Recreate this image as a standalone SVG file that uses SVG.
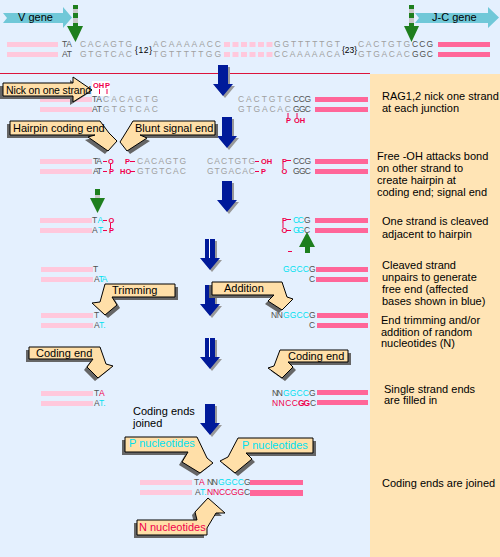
<svg xmlns="http://www.w3.org/2000/svg" xmlns:xlink="http://www.w3.org/1999/xlink" width="500" height="557" viewBox="0 0 500 557">
<style>
.s{font-family:"Liberation Sans",Arial,sans-serif;font-size:8.5px}
.g{fill:#a0a0a0}.d{fill:#505050}.r{fill:#f0004c}.c{fill:#00e0f0}.k{fill:#000}
.rs{font-family:"Liberation Sans",Arial,sans-serif;font-size:7.5px;font-weight:bold;fill:#f0004c}
.lp{fill:#ffc8dc}.hp{fill:#ff6699}
.lab{font-family:"Liberation Sans",Arial,sans-serif;font-size:11px;fill:#000}
.co{fill:#ffdfa8;stroke:#000;stroke-width:1}.sh{fill:#666}
.ba{fill:#001a9a}.bs{fill:#999}
.rl{stroke:#f0004c;stroke-width:1;fill:none}
.ge{fill:#70c8d8}
.gr{fill:#1e7f1e}.gy{fill:#c8c8c8}
</style>
<defs>
<path id="ba" d="M-5,0 h10 v19 h5 l-10,12 l-10,-12 h5 z"/>
</defs>
<rect width="500" height="557" fill="#e4f0fe"/>
<rect x="370" y="74" width="130" height="483" fill="#ffe4b5"/>
<line x1="0" y1="73.5" x2="370" y2="73.5" stroke="#dc143c" stroke-width="1"/>

<g id="v-gene">
<polygon class="ge" points="3,13 63,13 63,7 72,17.5 63,28 63,23 3,23 7,18"/>
<text class="lab" x="18" y="21">V gene</text>
</g>
<g id="jc-gene">
<polygon class="ge" points="415,13 488,13 488,7 499,17.5 488,28 488,23 415,23 419,18"/>
<text class="lab" x="432" y="21">J-C gene</text>
</g>

<g id="connectors">
<g id="green-arrows">
<rect class="gr" x="73" y="5" width="5" height="4"/><rect class="gy" x="73" y="9" width="5" height="4"/><rect class="gr" x="73" y="13" width="5" height="5"/><rect class="gy" x="73" y="18" width="5" height="5"/><rect class="gr" x="73" y="23" width="5" height="4"/>
<polygon class="gr" points="67,26 83,26 75.5,42"/>
<rect class="gr" x="409" y="5" width="5" height="4"/><rect class="gy" x="409" y="9" width="5" height="4"/><rect class="gr" x="409" y="13" width="5" height="5"/><rect class="gy" x="409" y="18" width="5" height="5"/><rect class="gr" x="409" y="23" width="5" height="4"/>
<polygon class="gr" points="404,26 419,26 411.5,42"/>
<rect class="gr" x="95" y="189" width="5" height="6"/><rect class="gy" x="95" y="195" width="5" height="4"/>
<polygon class="gr" points="90,198 105,198 97.5,213"/>
<polygon class="gr" points="299,247 315,247 307,232"/><rect class="gr" x="305" y="247" width="5" height="6"/>
<line class="rl" x1="288" y1="251.5" x2="292" y2="251.5"/>
</g>
<g id="blue-arrows">
<use xlink:href="#ba" class="bs" x="225" y="67"/><use xlink:href="#ba" class="ba" x="223" y="65"/>
<use xlink:href="#ba" class="bs" x="229" y="119"/><use xlink:href="#ba" class="ba" x="227" y="117"/>
<use xlink:href="#ba" class="bs" x="229" y="183"/><use xlink:href="#ba" class="ba" x="227" y="181"/>
<use xlink:href="#ba" class="bs" x="212" y="241"/><use xlink:href="#ba" class="ba" x="210" y="239"/>
<line x1="209.5" y1="239" x2="209.5" y2="258" stroke="#fff" stroke-width="1"/>
<use xlink:href="#ba" class="bs" x="212" y="287"/><use xlink:href="#ba" class="ba" x="210" y="285"/>
<use xlink:href="#ba" class="bs" x="212" y="340"/><use xlink:href="#ba" class="ba" x="210" y="338"/>
<line x1="209.5" y1="338" x2="209.5" y2="357" stroke="#fff" stroke-width="1"/>
<use xlink:href="#ba" class="bs" x="212" y="406"/><use xlink:href="#ba" class="ba" x="210" y="404"/>
</g>
</g>

<g id="step1">
<rect class="lp" x="7" y="42" width="51" height="5"/><rect class="lp" x="7" y="52" width="51" height="5"/>
<g class="lp"><rect x="224" y="42" width="6" height="5"/><rect x="232.5" y="42" width="6" height="5"/><rect x="241" y="42" width="6" height="5"/><rect x="249.5" y="42" width="6" height="5"/><rect x="258" y="42" width="6" height="5"/><rect x="266.5" y="42" width="6" height="5"/>
<rect x="224" y="52" width="6" height="5"/><rect x="232.5" y="52" width="6" height="5"/><rect x="241" y="52" width="6" height="5"/><rect x="249.5" y="52" width="6" height="5"/><rect x="258" y="52" width="6" height="5"/><rect x="266.5" y="52" width="6" height="5"/></g>
<rect class="hp" x="438" y="42" width="52" height="5"/><rect class="hp" x="438" y="52" width="52" height="5"/>
<text class="s d" x="62" y="47" textLength="10">TA</text>
<text class="s g" x="80" y="47" textLength="52">CACAGTG</text>
<text class="s g" x="153" y="47" textLength="68">ACAAAAACC</text>
<text class="s g" x="274" y="47" textLength="66">GGTTTTTGT</text>
<text class="s g" x="358" y="47" textLength="52">CACTGTG</text>
<text class="s d" x="412" y="47" textLength="21">CCG</text>
<text class="s d" x="62" y="57" textLength="10">AT</text>
<text class="s g" x="80" y="57" textLength="52">GTGTCAC</text>
<text class="s g" x="153" y="57" textLength="68">TGTTTTTGG</text>
<text class="s g" x="274" y="57" textLength="66">CCAAAAACA</text>
<text class="s g" x="358" y="57" textLength="52">GTGACAC</text>
<text class="s d" x="412" y="57" textLength="21">GGC</text>
<text class="s k" x="135" y="53" font-size="9" textLength="17">{12}</text>
<text class="s k" x="342" y="53" font-size="9" textLength="15">{23}</text>
</g>

<g id="step2">
<rect x="92" y="81" width="18" height="15" fill="#fff"/>
<text class="rs" x="93" y="88">OH</text><text class="rs" x="105" y="88">P</text>
<line class="rl" x1="99.5" y1="89" x2="99.5" y2="94"/><line class="rl" x1="107" y1="89" x2="107" y2="94"/>
<rect class="lp" x="40" y="97" width="52" height="5"/><rect class="lp" x="40" y="107" width="52" height="5"/>
<text class="s d" x="92" y="102" textLength="10">TA</text>
<text class="s g" x="103" y="102" textLength="55">CACAGTG</text>
<text class="s d" x="92" y="112" textLength="10">AT</text>
<text class="s g" x="103" y="112" textLength="55">GTGTCAC</text>
<text class="s g" x="238" y="102" textLength="53">CACTGTG</text>
<text class="s d" x="293" y="102" textLength="18">CCG</text>
<text class="s g" x="238" y="112" textLength="53">GTGACAC</text>
<text class="s d" x="293" y="112" textLength="18">GGC</text>
<rect class="hp" x="315" y="97" width="53" height="5"/><rect class="hp" x="315" y="107" width="53" height="5"/>
<line class="rl" x1="288" y1="113" x2="288" y2="118"/><line class="rl" x1="297" y1="113" x2="297" y2="118"/>
<text class="rs" x="286" y="123">P</text><text class="rs" x="294" y="123">OH</text>
</g>

<g id="step3">
<rect class="lp" x="40" y="159" width="52" height="5"/><rect class="lp" x="40" y="169" width="52" height="5"/>
<text class="s d" x="93" y="164" textLength="9">TA</text>
<text class="s d" x="93" y="174" textLength="9">AT</text>
<line class="rl" x1="103" y1="161.5" x2="107" y2="161.5"/><line class="rl" x1="103" y1="171.5" x2="107" y2="171.5"/>
<text class="rs" x="108" y="164">O</text><text class="rs" x="109" y="174">P</text>
<line class="rl" x1="110.5" y1="164" x2="110.5" y2="169"/>
<text class="rs" x="125" y="164">P</text><line class="rl" x1="130" y1="161.5" x2="135" y2="161.5"/>
<text class="rs" x="120" y="174">HO</text><line class="rl" x1="130" y1="171.5" x2="135" y2="171.5"/>
<text class="s g" x="137" y="164" textLength="49">CACAGTG</text>
<text class="s g" x="137" y="174" textLength="49">GTGTCAC</text>
<text class="s g" x="207" y="164" textLength="48">CACTGTG</text>
<text class="s g" x="207" y="174" textLength="48">GTGACAC</text>
<line class="rl" x1="255" y1="161.5" x2="259" y2="161.5"/><text class="rs" x="261" y="164">OH</text>
<line class="rl" x1="255" y1="171.5" x2="259" y2="171.5"/><text class="rs" x="261" y="174">P</text>
<text class="rs" x="282" y="164">P</text><line class="rl" x1="286" y1="160.5" x2="291" y2="160.5"/>
<text class="rs" x="281.5" y="174">O</text>
<line class="rl" x1="283" y1="164" x2="283" y2="169"/>
<text class="s d" x="293" y="164" textLength="18">CCG</text>
<text class="s d" x="293" y="174" textLength="18">GGC</text>
<rect class="hp" x="315" y="159" width="53" height="5"/><rect class="hp" x="315" y="169" width="53" height="5"/>
</g>

<g id="step4">
<rect class="lp" x="40" y="218" width="52" height="5"/><rect class="lp" x="40" y="228" width="52" height="5"/>
<text class="s d" x="92" y="223">T</text><text class="s c" x="97.5" y="223">A</text>
<text class="s d" x="92" y="233">A</text><text class="s c" x="98" y="233">T</text>
<line class="rl" x1="103" y1="220.5" x2="107" y2="220.5"/><line class="rl" x1="103" y1="230.5" x2="107" y2="230.5"/>
<text class="rs" x="108.5" y="223">O</text><text class="rs" x="109" y="233">P</text>
<line class="rl" x1="110.5" y1="223" x2="110.5" y2="228"/>
<text class="rs" x="282" y="223">P</text><line class="rl" x1="286" y1="219.5" x2="291" y2="219.5"/>
<text class="rs" x="281.5" y="233">O</text><line class="rl" x1="286" y1="230.5" x2="291" y2="230.5"/>
<line class="rl" x1="283" y1="223" x2="283" y2="228"/>
<text class="s c" x="293" y="223" textLength="11">CC</text><text class="s d" x="304" y="223">G</text>
<text class="s c" x="293" y="233" textLength="11">GG</text><text class="s d" x="304" y="233">C</text>
<rect class="hp" x="315" y="218" width="53" height="5"/><rect class="hp" x="315" y="228" width="53" height="5"/>
</g>

<g id="step5">
<rect class="lp" x="41" y="267" width="52" height="5"/><rect class="lp" x="41" y="277" width="52" height="5"/>
<text class="s d" x="93" y="272">T</text>
<text class="s d" x="94" y="282">A</text><text class="s c" x="98.5" y="282" textLength="9">TA</text>
<text class="s c" x="283" y="272" textLength="26">GGCC</text><text class="s d" x="309" y="272">G</text>
<text class="s d" x="309" y="282">C</text>
<rect class="hp" x="316" y="267" width="52" height="5"/><rect class="hp" x="316" y="277" width="52" height="5"/>
</g>

<g id="step6">
<rect class="lp" x="41" y="313" width="52" height="5"/><rect class="lp" x="41" y="323" width="52" height="5"/>
<text class="s d" x="94" y="318">T</text>
<text class="s d" x="94" y="328">A</text><text class="s c" x="99" y="328">T.</text>
<text class="s d" x="271" y="318" textLength="12">NN</text><text class="s c" x="283" y="318" textLength="26">GGCC</text><text class="s d" x="309" y="318">G</text>
<text class="s d" x="309" y="328">C</text>
<rect class="hp" x="317" y="313" width="51" height="5"/><rect class="hp" x="317" y="323" width="51" height="5"/>
</g>

<g id="step7">
<rect class="lp" x="41" y="391" width="52" height="5"/><rect class="lp" x="41" y="401" width="52" height="5"/>
<text class="s d" x="94" y="396">T</text><text class="s r" x="99" y="396">A</text>
<text class="s d" x="94" y="406">A</text><text class="s c" x="99" y="406">T.</text>
<text class="s d" x="272" y="396" textLength="11">NN</text><text class="s c" x="283" y="396" textLength="26">GGCC</text><text class="s d" x="309" y="396">G</text>
<text class="s r" x="272" y="406" textLength="26">NNCC</text><text class="s r" x="298" y="406" textLength="12" font-weight="bold">GG</text><text class="s d" x="310" y="406">C</text>
<rect class="hp" x="317" y="390" width="51" height="5"/><rect class="hp" x="317" y="400" width="51" height="5"/>
</g>

<g id="final">
<rect class="lp" x="140" y="480" width="52" height="5"/><rect class="lp" x="140" y="490" width="52" height="5"/>
<text class="s d" x="194" y="485">T</text><text class="s r" x="199" y="485">A</text>
<text class="s d" x="207" y="485" textLength="11">NN</text><text class="s c" x="218" y="485" textLength="26">GGCC</text><text class="s d" x="244" y="485">G</text>
<text class="s d" x="195" y="495">A</text><text class="s c" x="200" y="495">T.</text>
<text class="s r" x="207" y="495" textLength="37">NNCCGG</text><text class="s d" x="244" y="495">C</text>
<rect class="hp" x="250" y="480" width="53" height="5"/><rect class="hp" x="250" y="490" width="53" height="6"/>
</g>

<g id="callout-nick">
<polygon class="sh" transform="translate(-3,3)" points="3,83 73,83 73,77 92,90 73,102 73,96 3,96"/>
<polygon class="co" points="3,83 73,83 73,77 92,90 73,102 73,96 3,96"/>
<text class="lab" x="6" y="93.5" font-size="10.5" style="font-size:10.5px" textLength="85">Nick on one strand</text>
</g>
<g id="callout-hairpin">
<polygon class="sh" transform="translate(-3,3)" points="10,121 100,121 109,133 117,141 108,151 88,137 95,135 10,135"/>
<polygon class="co" points="10,121 100,121 109,133 117,141 108,151 88,137 95,135 10,135"/>
<text class="lab" x="13" y="132">Hairpin coding end</text>
</g>
<g id="callout-blunt">
<polygon class="sh" transform="translate(3,3)" points="215,121 133,121 125,134 120,142 127,151 147,138 140,135 215,135"/>
<polygon class="co" points="215,121 133,121 125,134 120,142 127,151 147,138 140,135 215,135"/>
<text class="lab" x="135" y="132">Blunt signal end</text>
</g>
<g id="callout-trimming">
<polygon class="sh" transform="translate(3,3)" points="175,284 105,284 100,302 92,303 105,315 117,305 112,297 175,297"/>
<polygon class="co" points="175,284 105,284 100,302 92,303 105,315 117,305 112,297 175,297"/>
<text class="lab" x="112" y="294">Trimming</text>
</g>
<g id="callout-addition">
<polygon class="sh" transform="translate(-3,3)" points="212,282 282,282 287,297 293,299 282,310 268,301 274,295 212,295"/>
<polygon class="co" points="212,282 282,282 287,297 293,299 282,310 268,301 274,295 212,295"/>
<text class="lab" x="224" y="292">Addition</text>
</g>
<g id="callout-coding-left">
<polygon class="sh" transform="translate(-3,3)" points="29,347 100,347 106,364 113,366 98,378 87,367 93,359 29,359"/>
<polygon class="co" points="29,347 100,347 106,364 113,366 98,378 87,367 93,359 29,359"/>
<text class="lab" x="36" y="357">Coding end</text>
</g>
<g id="callout-coding-right">
<polygon class="sh" transform="translate(3,3)" points="348,350 280,350 274,366 268,368 282,378 293,367 288,362 348,362"/>
<polygon class="co" points="348,350 280,350 274,366 268,368 282,378 293,367 288,362 348,362"/>
<text class="lab" x="288" y="360">Coding end</text>
</g>
<g id="label-joined">
<text class="lab" x="133" y="415">Coding ends</text>
<text class="lab" x="133" y="427">joined</text>
</g>
<g id="callout-p-left">
<polygon class="sh" transform="translate(-3,3)" points="125,437 197,437 207,458 213,463 200,473 182,462 188,452 125,452"/>
<polygon class="co" points="125,437 197,437 207,458 213,463 200,473 182,462 188,452 125,452"/>
<text class="lab" x="129" y="447" style="fill:#00e0f0">P nucleotides</text>
</g>
<g id="callout-p-right">
<polygon class="sh" transform="translate(3,3)" points="313,438 238,438 228,457 220,461 235,473 252,459 246,453 313,453"/>
<polygon class="co" points="313,438 238,438 228,457 220,461 235,473 252,459 246,453 313,453"/>
<text class="lab" x="242" y="449" style="fill:#00e0f0">P nucleotides</text>
</g>
<g id="callout-n">
<polygon class="sh" transform="translate(-3,3)" points="137,520 197,520 195,512 208,498 225,513 216,513 207,528 207,535 137,535"/>
<polygon class="co" points="137,520 197,520 195,512 208,498 225,513 216,513 207,528 207,535 137,535"/>
<text class="lab" x="139" y="531" style="fill:#f0004c">N nucleotides</text>
</g>

<g id="notes">
<text class="lab" x="382" y="100">RAG1,2 nick one strand</text>
<text class="lab" x="382" y="112">at each junction</text>
<text class="lab" x="377" y="160">Free -OH attacks bond</text>
<text class="lab" x="377" y="172">on other strand to</text>
<text class="lab" x="377" y="184">create hairpin at</text>
<text class="lab" x="377" y="196">coding end; signal end</text>
<text class="lab" x="382" y="225">One strand is cleaved</text>
<text class="lab" x="382" y="238">adjacent to hairpin</text>
<text class="lab" x="382" y="269">Cleaved strand</text>
<text class="lab" x="382" y="281">unpairs to generate</text>
<text class="lab" x="382" y="293">free end (affected</text>
<text class="lab" x="382" y="305">bases shown in blue)</text>
<text class="lab" x="381" y="324">End trimming and/or</text>
<text class="lab" x="381" y="336">addition of random</text>
<text class="lab" x="381" y="347">nucleotides (N)</text>
<text class="lab" x="384" y="393">Single strand ends</text>
<text class="lab" x="384" y="404">are filled in</text>
<text class="lab" x="382" y="487">Coding ends are joined</text>
</g>
</svg>
